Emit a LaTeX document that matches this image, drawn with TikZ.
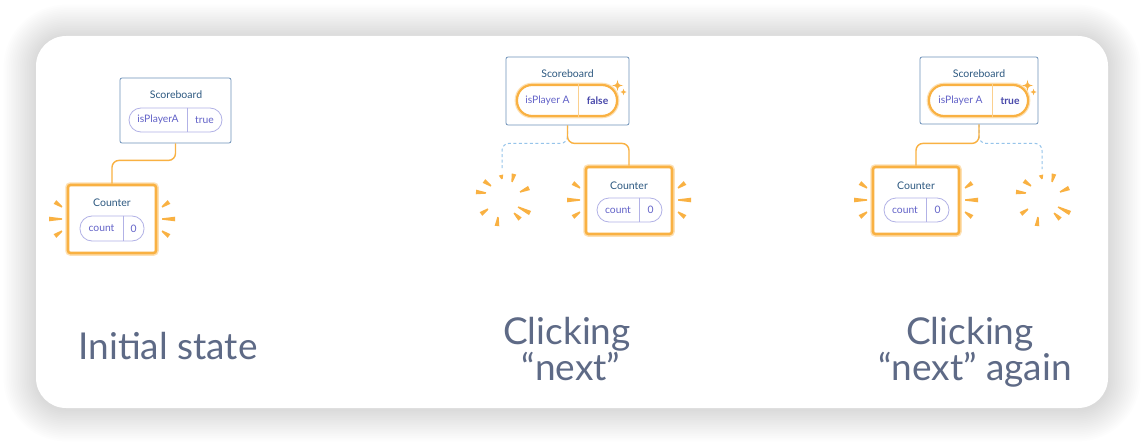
\documentclass[tikz,border=0pt]{standalone}
\usepackage{fontspec}
\setmainfont{Lato}
\usetikzlibrary{calc}
\definecolor{lblgray}{RGB}{94,106,134}
\definecolor{titleblue}{RGB}{44,88,128}
\definecolor{pilltext}{RGB}{98,98,200}
\definecolor{valtext}{RGB}{72,72,170}
\definecolor{pillpurple}{RGB}{178,178,230}
\definecolor{boxblue}{RGB}{110,145,185}
\definecolor{orng}{RGB}{249,177,66}
\definecolor{dashblue}{RGB}{150,196,234}
\newcommand\rayw[4]{%
  \fill[ray] ($(#1,#2)!0.7pt!90:(#3,#4)$) -- ($(#3,#4)!2.3pt!-90:(#1,#2)$) --
    ($(#3,#4)!2.3pt!90:(#1,#2)$) -- ($(#1,#2)!0.7pt!-90:(#3,#4)$) -- cycle;}
\newcommand\cntrays[3]{%
  \rayw{#1-6}{#3-12}{#1-13}{#3-17}
  \rayw{#1-6}{#3}{#1-19}{#3}
  \rayw{#1-6}{#3+12}{#1-13}{#3+17}
  \rayw{#2+6}{#3-12}{#2+13}{#3-17}
  \rayw{#2+6}{#3}{#2+19}{#3}
  \rayw{#2+6}{#3+12}{#2+13}{#3+17}}
\newcommand\burst[2]{%
  \rayw{#1}{#2-20}{#1-1}{#2-24}
  \rayw{#1+10}{#2-17}{#1+12}{#2-25}
  \rayw{#1+18}{#2-7}{#1+27}{#2-11}
  \rayw{#1+16}{#2+8}{#1+28}{#2+14}
  \rayw{#1+12}{#2+14}{#1+18}{#2+20}
  \rayw{#1-4}{#2+18}{#1-5}{#2+27}
  \rayw{#1-14}{#2+10}{#1-21}{#2+15}
  \rayw{#1-16}{#2-6}{#1-26}{#2-7}
  \rayw{#1-11}{#2-13}{#1-18}{#2-18}}
\newcommand\sparkle[3]{%
  \fill[orng] (#1,#2-#3)
    .. controls (#1+0.18*#3,#2-0.18*#3) and (#1+0.18*#3,#2-0.18*#3) .. (#1+#3,#2)
    .. controls (#1+0.18*#3,#2+0.18*#3) and (#1+0.18*#3,#2+0.18*#3) .. (#1,#2+#3)
    .. controls (#1-0.18*#3,#2+0.18*#3) and (#1-0.18*#3,#2+0.18*#3) .. (#1-#3,#2)
    .. controls (#1-0.18*#3,#2-0.18*#3) and (#1-0.18*#3,#2-0.18*#3) .. (#1,#2-#3) -- cycle;}
\begin{document}
\begin{tikzpicture}[x=1pt,y=-1pt,
  sbbox/.style={draw=boxblue, line width=0.8pt, fill=white, rounded corners=2pt, inner sep=0pt},
  cntbox/.style={draw=orng, line width=2.6pt, fill=white, rounded corners=2.5pt, inner sep=0pt,
     preaction={draw=orng!40, line width=5.5pt}},
  title/.style={font=\fontsize{10.5}{12}\selectfont, text=titleblue, inner sep=0pt},
  pill/.style={draw=pillpurple, line width=0.8pt, rounded corners=12pt, inner sep=0pt, fill=white},
  hotpill/.style={draw=orng, line width=2.2pt, rounded corners=15pt, inner sep=0pt, fill=white,
     preaction={draw=orng!40, line width=4.6pt}},
  key/.style={font=\fontsize{10.3}{12}\selectfont, text=pilltext, inner sep=0pt},
  val/.style={font=\fontsize{10.3}{12}\selectfont\bfseries, text=valtext, inner sep=0pt},
  wire/.style={draw=orng, line width=1.4pt, rounded corners=7pt},
  ghost/.style={draw=dashblue, line width=1pt, dash pattern=on 3pt off 2.5pt, rounded corners=7pt},
  ray/.style={fill=orng},
  lbl/.style={font=\fontsize{37}{40}\selectfont, text=lblgray, anchor=base, inner sep=0pt}]
\useasboundingbox (0,0) rectangle (1144,444);
\fill[white] (0,0) rectangle (1144,444);
% card shadow
\foreach \i in {1,...,18}{
  \fill[black, opacity=0.008, rounded corners={30pt+1.8pt*\i}] (36-1.8*\i,37-1.8*\i) rectangle (1108+1.8*\i,409+1.8*\i);
}
\fill[white, rounded corners=30pt] (36,36) rectangle (1108,408);

% ===== Panel 1 =====
\node[sbbox, minimum width=111pt, minimum height=65pt] (sb1) at (175.5,110.5) {};
\node[title] (sb1t) at (176,95) {Scoreboard};
\node[pill, minimum width=93pt, minimum height=24pt] (p1) at (175.5,120) {};
\coordinate (d1) at (187,0);
\draw[pillpurple, line width=0.8pt] (p1.north -| d1) -- (p1.south -| d1);
\node[key] (k1) at (158,120) {isPlayerA};
\node[key] (v1) at (204.5,120) {true};

\node[cntbox, minimum width=88pt, minimum height=68pt] (c1) at (112,219) {};
\node[title] (c1t) at (112,203) {Counter};
\node[pill, minimum width=64pt, minimum height=25pt] (cp1) at (112,228.5) {};
\coordinate (e1) at (123,0);
\draw[pillpurple, line width=0.8pt] (cp1.north -| e1) -- (cp1.south -| e1);
\node[key] (ck1) at (101.5,228.5) {count};
\node[key] (cv1) at (133.5,228.5) {0};
\cntrays{68}{156}{219}
\draw[wire] (sb1.south) -- ++(0,17) -| (c1.north);

% ===== Panel 2 =====
\node[sbbox, minimum width=123pt, minimum height=68pt] (sb2) at (567.5,91) {};
\node[title] (sb2t) at (567.5,74) {Scoreboard};
\node[hotpill, minimum width=100pt, minimum height=31pt] (p2) at (567,100.5) {};
\coordinate (d2) at (578,0);
\draw[orng!60, line width=0.8pt] (p2.north -| d2) -- (p2.south -| d2);
\node[key] (k2) at (547.5,101) {isPlayer A};
\node[val] (v2) at (597.5,101) {false};
\sparkle{617.5}{85.5}{5.5}
\sparkle{623.5}{92}{3.2}
\coordinate (g2) at (502,169);
\draw[ghost] (sb2.south) -- ++(0,18) -| (g2);

\node[cntbox, minimum width=86pt, minimum height=67pt] (c2) at (629,200.5) {};
\node[title] (c2t) at (629,186) {Counter};
\node[pill, minimum width=65pt, minimum height=24pt] (cp2) at (629.5,210) {};
\coordinate (e2) at (639,0);
\draw[pillpurple, line width=0.8pt] (cp2.north -| e2) -- (cp2.south -| e2);
\node[key] (ck2) at (618,210) {count};
\node[key] (cv2) at (650.5,210) {0};
\cntrays{586}{672}{200}
\draw[wire] (sb2.south) -- ++(0,18) -| (c2.north);
\burst{502}{199}

% ===== Panel 3 =====
\node[sbbox, minimum width=118pt, minimum height=67pt] (sb3) at (979,90.5) {};
\node[title] (sb3t) at (979,74) {Scoreboard};
\node[hotpill, minimum width=99pt, minimum height=31pt] (p3) at (978.5,100.5) {};
\coordinate (d3) at (992,0);
\draw[orng!60, line width=0.8pt] (p3.north -| d3) -- (p3.south -| d3);
\node[key] (k3) at (960.5,101) {isPlayer A};
\node[val] (v3) at (1010,101) {true};
\sparkle{1027.5}{85.5}{5.5}
\sparkle{1033.5}{92}{3.2}
\coordinate (g3) at (1042,169);
\draw[ghost] (sb3.south) -- ++(0,19) -| (g3);

\node[cntbox, minimum width=86pt, minimum height=67pt] (c3) at (916,200.5) {};
\node[title] (c3t) at (916,186) {Counter};
\node[pill, minimum width=65pt, minimum height=24pt] (cp3) at (916.5,210) {};
\coordinate (e3) at (926,0);
\draw[pillpurple, line width=0.8pt] (cp3.north -| e3) -- (cp3.south -| e3);
\node[key] (ck3) at (905,210) {count};
\node[key] (cv3) at (937.5,210) {0};
\cntrays{873}{959}{200}
\draw[wire] (sb3.south) -- ++(0,19) -| (c3.north);
\burst{1042}{199}

% ===== Labels =====
\node[lbl] (l1) at (168,359) {Initial state};
\node[lbl] (l2a) at (567,344) {Clicking};
\node[lbl] (l2b) at (571,380) {“next”};
\node[lbl] (l3a) at (970,344) {Clicking};
\node[lbl] (l3b) at (975,380) {“next” again};
\end{tikzpicture}
\end{document}
